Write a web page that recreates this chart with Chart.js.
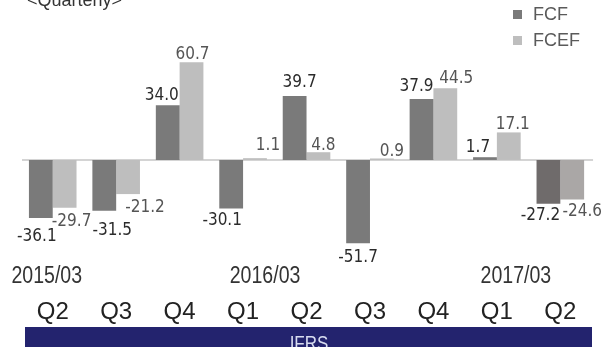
<!DOCTYPE html>
<html>
<head>
<meta charset="utf-8">
<script src="https://cdn.jsdelivr.net/npm/chart.js@4/dist/chart.umd.min.js"></script>
<style>
  html, body { margin: 0; padding: 0; background: #fff; }
</style>
</head>
<body>
<canvas id="fcfChart" width="609" height="347"></canvas>
<script>
// quarterly free cash flow, 2015/03 FY Q2 .. 2017/03 FY Q2
var quarters = ["Q2", "Q3", "Q4", "Q1", "Q2", "Q3", "Q4", "Q1", "Q2"];
var fiscalYears = ["2015/03", "", "", "2016/03", "", "", "", "2017/03", ""];
var seriesNames = ["FCF", "FCEF"];
var fcf = [-36.1, -31.5, 34.0, -30.1, 39.7, -51.7, 37.9, 1.7, -27.2];
var fcef = [-29.7, -21.2, 60.7, 1.1, 4.8, 0.9, 44.5, 17.1, -24.6];

var fcfColor = "#7a7a7a";
var fcefColor = "#bebebe";
var lastIdx = quarters.length - 1;

// thin grey line on zero
var zeroLine = {
  id: "zeroLine",
  beforeDatasetsDraw: function (chart) {
    var ctx = chart.ctx;
    var y = chart.scales.y.getPixelForValue(0);
    ctx.save();
    ctx.strokeStyle = "#d4d4d4";
    ctx.lineWidth = 2;
    ctx.beginPath();
    ctx.moveTo(chart.chartArea.left + 1, y);
    ctx.lineTo(chart.chartArea.right + 1, y);
    ctx.stroke();
    ctx.restore();
  }
};

// value on top / under each bar, nudged a little so neighbours don't collide
var valueLabels = {
  id: "valueLabels",
  afterDatasetsDraw: function (chart, args, opts) {
    var ctx = chart.ctx;
    ctx.save();
    ctx.font = "17px 'DejaVu Sans Condensed', 'DejaVu Sans'";
    ctx.textAlign = "center";
    ctx.textBaseline = "middle";
    chart.data.datasets.forEach(function (ds, d) {
      var meta = chart.getDatasetMeta(d);
      ctx.fillStyle = opts.colors[d];
      meta.data.forEach(function (bar, i) {
        var v = ds.data[i];
        var shift = opts.shift[d][i];
        var y = v >= 0 ? bar.y - 9.5 : bar.y + 12.5;
        ctx.fillText(v.toFixed(1), bar.x + shift[0], y + shift[1]);
      });
    });
    ctx.restore();
  }
};

// narrow-looking text: squeeze horizontally around its centre
function narrowText(ctx, text, x, y, squeeze) {
  ctx.save();
  ctx.translate(x, y);
  ctx.scale(squeeze, 1);
  ctx.fillText(text, 0, 0);
  ctx.restore();
}

// title, legend, fiscal year row and the IFRS band
var decorations = {
  id: "decorations",
  afterDraw: function (chart, args, opts) {
    var ctx = chart.ctx;
    var x = chart.scales.x;
    ctx.save();

    ctx.fillStyle = "#333";
    ctx.font = "18px 'Liberation Sans', Arial";
    ctx.textAlign = "left";
    ctx.textBaseline = "alphabetic";
    ctx.fillText("<Quarterly>", 27, 6);

    // legend
    chart.data.datasets.forEach(function (ds, d) {
      var top = 10 + d * 26;
      ctx.fillStyle = opts.legendColors[d];
      ctx.fillRect(513, top, 9, 9);
      ctx.fillStyle = "#5a5a5a";
      ctx.font = "18px 'Liberation Sans', Arial";
      ctx.textBaseline = "middle";
      ctx.fillText(ds.label, 533, top + 5);
    });

    // fiscal year row
    ctx.fillStyle = "#333";
    ctx.font = "23px 'Liberation Sans', Arial";
    ctx.textAlign = "center";
    ctx.textBaseline = "middle";
    fiscalYears.forEach(function (fy, i) {
      if (!fy) return;
      narrowText(ctx, fy, x.getPixelForValue(i) + opts.yearShift[i], 277, 0.85);
    });

    // accounting standard band
    ctx.fillStyle = "#23236e";
    ctx.fillRect(25, 327, 567, 20);
    ctx.fillStyle = "#d8dcf0";
    ctx.font = "20px 'Liberation Sans', Arial";
    ctx.textBaseline = "alphabetic";
    narrowText(ctx, "IFRS", 309, 350, 0.85);

    ctx.restore();
  }
};

// the last quarter is shaded a touch darker
function shade(base, last) {
  return function (c) { return c.dataIndex === lastIdx ? last : base; };
}

var ctx = document.getElementById("fcfChart").getContext("2d");
var fcfChart = new Chart(ctx, {
  type: "bar",
  data: {
    labels: quarters,
    datasets: [
      {
        label: seriesNames[0],
        data: fcf,
        backgroundColor: shade(fcfColor, "#6f6b6b"),
        hoverBackgroundColor: shade(fcfColor, "#6f6b6b"),
      },
      {
        label: seriesNames[1],
        data: fcef,
        backgroundColor: shade(fcefColor, "#aaa7a6"),
        hoverBackgroundColor: shade(fcefColor, "#aaa7a6"),
      },
    ],
  },
  options: {
    responsive: false,
    animation: false,
    devicePixelRatio: 1,
    categoryPercentage: 0.75,
    barPercentage: 1.0,
    layout: {
      padding: { left: 21, right: 12, top: 40, bottom: 20 },
    },
    scales: {
      x: {
        grid: { display: false, drawTicks: false },
        border: { display: false },
        ticks: {
          padding: 32,
          color: "#222",
          font: { family: "'Liberation Sans', Arial", size: 24, lineHeight: 1.25 },
        },
        afterFit: function (scale) {
          scale.height = 62;
        },
      },
      y: {
        display: false,
        min: -65.25,
        max: 74.5,
      },
    },
    plugins: {
      legend: { display: false },
      tooltip: { enabled: false },
      valueLabels: {
        colors: ["#2b2b2b", "#555"],
        shift: [
          [[-4, 6], [8, 7], [-6, 0], [-9, 0], [5, -4], [0, 2], [-5, -3], [-7, 0], [-8, -1]],
          [[7, 1], [17, 1], [1, 2], [13, -3], [5, 3], [10, 3], [11, 0], [4, 2], [10, 0]],
        ],
      },
      decorations: {
        legendColors: [fcfColor, fcefColor],
        yearShift: [-6, 0, 0, 22, 0, 0, 0, 19, 0],
      },
    },
  },
  plugins: [zeroLine, valueLabels, decorations],
});
</script>
</body>
</html>
